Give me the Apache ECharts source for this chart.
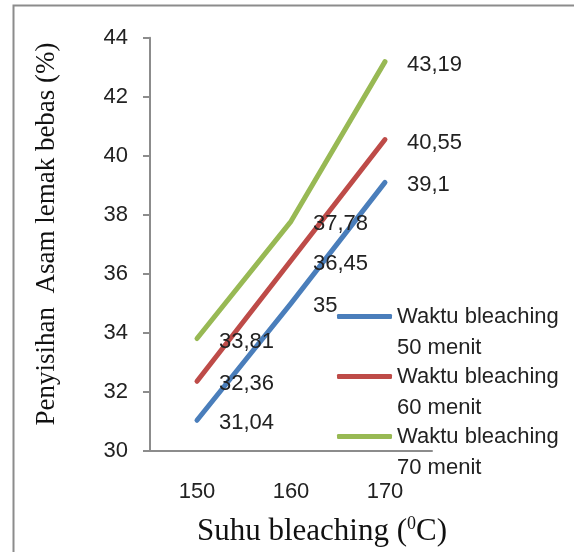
<!DOCTYPE html>
<html>
<head>
<meta charset="utf-8">
<script src="https://cdn.jsdelivr.net/npm/echarts@6/dist/echarts.min.js"></script>
<style>html,body{margin:0;padding:0;background:#fff}#c{width:574px;height:552px}</style>
</head>
<body>
<div id="c"></div>
<script>
const categories = ['150', '160', '170'];
const seriesNames = ['Waktu bleaching\n50 menit', 'Waktu bleaching\n60 menit', 'Waktu bleaching\n70 menit'];
const values50 = [31.04, 35, 39.1];
const values60 = [32.36, 36.45, 40.55];
const values70 = [33.81, 37.78, 43.19];
const yTicks = { min: 30, max: 44, interval: 2 };
const colors = ['#4a7ebb', '#be4b48', '#98b954'];

const chart = echarts.init(document.getElementById('c'), null, { renderer: 'canvas' });
const sans = 'Liberation Sans';
const serif = 'Liberation Serif';

function mk(name, data, color) {
  return {
    name: name, type: 'line', data: data, symbol: 'circle', symbolSize: 0, showSymbol: true,
    lineStyle: { color: color, width: 5, cap: 'round', join: 'round' },
    itemStyle: { color: color },
    label: {
      show: true, position: 'right', distance: 22, offset: [0, 3],
      fontFamily: sans, fontSize: 22, color: '#222',
      formatter: p => String(p.value).replace('.', ',')
    },
    animation: false
  };
}

chart.setOption({
  animation: false,
  grid: { left: 150, top: 37.7, width: 282, bottom: 101, containLabel: false },
  xAxis: {
    type: 'category', data: categories, boundaryGap: true,
    axisLine: { lineStyle: { color: '#8c8c8c', width: 2 } },
    axisTick: { show: false },
    axisLabel: { fontFamily: sans, fontSize: 22, color: '#222', margin: 30 }
  },
  yAxis: {
    type: 'value', min: yTicks.min, max: yTicks.max, interval: yTicks.interval,
    splitLine: { show: false },
    axisLine: { show: true, lineStyle: { color: '#8c8c8c', width: 2 } },
    axisTick: { show: true, inside: false, length: 7, lineStyle: { color: '#8c8c8c', width: 2 } },
    axisLabel: { fontFamily: sans, fontSize: 22, color: '#222', margin: 22 }
  },
  legend: {
    orient: 'vertical', left: 337, top: 270, padding: 0, itemGap: -33,
    itemWidth: 55, itemHeight: 5, icon: 'roundRect',
    data: seriesNames,
    formatter: name => '\n' + name,
    textStyle: { fontFamily: sans, fontSize: 22, color: '#222', lineHeight: 31 }
  },
  series: [
    mk(seriesNames[0], values50, colors[0]),
    mk(seriesNames[1], values60, colors[1]),
    mk(seriesNames[2], values70, colors[2])
  ],
  graphic: [
    { type: 'rect', shape: { x: 13.5, y: 5.5, width: 700, height: 700 }, style: { fill: null, stroke: '#8c8c8c', lineWidth: 2 }, silent: true, z: -1 },
    { type: 'text', x: 47, y: 234, rotation: Math.PI / 2,
      style: { text: 'Penyisihan  Asam lemak bebas (%)', font: '27px "Liberation Serif"', fill: '#111', align: 'center', verticalAlign: 'middle' } },
    { type: 'text', x: 322, y: 532,
      style: {
        text: '{a|Suhu bleaching (}{s|0}{a|C)}', align: 'center', verticalAlign: 'middle',
        rich: {
          a: { fontFamily: serif, fontSize: 31, fill: '#111', color: '#111' },
          s: { fontFamily: serif, fontSize: 18, fill: '#111', color: '#111', verticalAlign: 'top', padding: [0, 0, 15, 0] }
        }
      } }
  ]
});
</script>
</body>
</html>
